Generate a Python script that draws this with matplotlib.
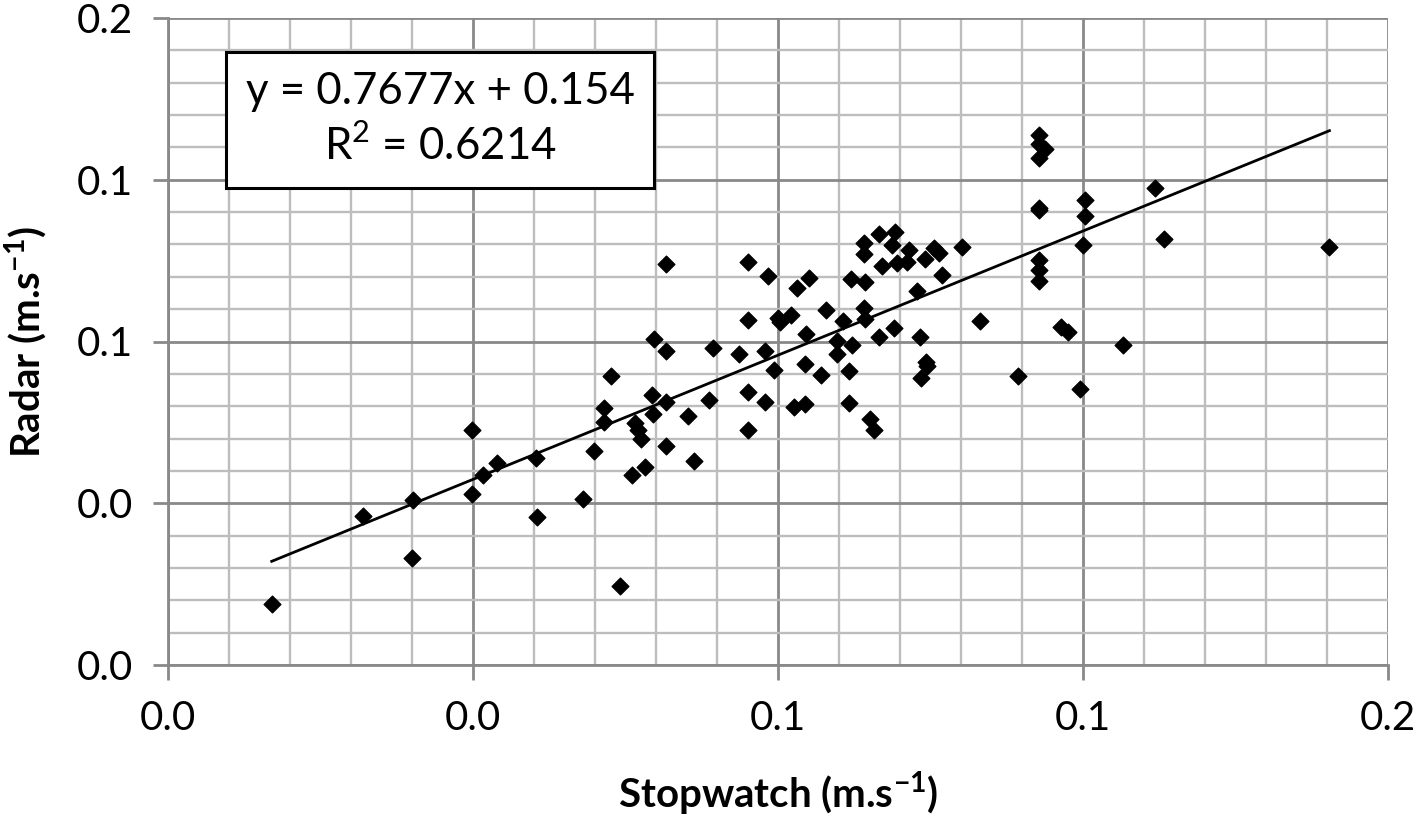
import numpy as np
import matplotlib
matplotlib.use('Agg')
import matplotlib.pyplot as plt
from matplotlib.ticker import MultipleLocator, FixedLocator, FixedFormatter

plt.rcParams['font.family'] = ['Lato', 'DejaVu Sans']
plt.rcParams['mathtext.fontset'] = 'custom'
plt.rcParams['mathtext.rm'] = 'Lato'
plt.rcParams['mathtext.bf'] = 'Lato:bold'

# stopwatch vs radar speeds
stopwatch = [0.0170, 0.0319, 0.0400, 0.0402, 0.0499, 0.0499, 0.0516, 0.0539, 0.0603, 0.0605,
             0.0680, 0.0698, 0.0714, 0.0715, 0.0727, 0.0741, 0.0761, 0.0765, 0.0771, 0.0775,
             0.0782, 0.0793, 0.0795, 0.0796, 0.0816, 0.0816, 0.0816, 0.0816, 0.0852, 0.0862,
             0.0887, 0.0893, 0.0936, 0.0951, 0.0951, 0.0951, 0.0951, 0.0978, 0.0978, 0.0984,
             0.0993, 0.1000, 0.1004, 0.1022, 0.1026, 0.1031, 0.1045, 0.1046, 0.1044, 0.1051,
             0.1070, 0.1078, 0.1097, 0.1097, 0.1107, 0.1116, 0.1116, 0.1120, 0.1121, 0.1141,
             0.1141, 0.1141, 0.1143, 0.1143, 0.1150, 0.1158, 0.1166, 0.1166, 0.1171, 0.1187,
             0.1191, 0.1190, 0.1195, 0.1211, 0.1215, 0.1228, 0.1232, 0.1234, 0.1241, 0.1242,
             0.1245, 0.1256, 0.1264, 0.1269, 0.1302, 0.1331, 0.1393, 0.1428, 0.1428, 0.1438,
             0.1428, 0.1428, 0.1428, 0.1428, 0.1428, 0.1428, 0.1464, 0.1475, 0.1495, 0.1500,
             0.1504, 0.1504, 0.1565, 0.1618, 0.1632, 0.1904]
radar = [0.0190, 0.0460, 0.0331, 0.0509, 0.0725, 0.0528, 0.0586, 0.0625, 0.0640, 0.0456,
         0.0512, 0.0661, 0.0751, 0.0795, 0.0894, 0.0244, 0.0588, 0.0748, 0.0725, 0.0699,
         0.0612, 0.0835, 0.0775, 0.1009, 0.1240, 0.0970, 0.0813, 0.0677, 0.0769, 0.0631,
         0.0818, 0.0980, 0.0960, 0.1245, 0.1068, 0.0844, 0.0727, 0.0971, 0.0812, 0.1201,
         0.0913, 0.1073, 0.1059, 0.1083, 0.0798, 0.1165, 0.0806, 0.1022, 0.0931, 0.1195,
         0.0895, 0.1096, 0.1003, 0.0962, 0.1063, 0.0910, 0.0811, 0.1192, 0.0988, 0.1305,
         0.1269, 0.1104, 0.1183, 0.1070, 0.0759, 0.0725, 0.1332, 0.1015, 0.1232, 0.1298,
         0.1337, 0.1042, 0.1242, 0.1245, 0.1283, 0.1155, 0.1013, 0.0888, 0.1254, 0.0938,
         0.0924, 0.1290, 0.1275, 0.1207, 0.1293, 0.1063, 0.0894, 0.1639, 0.1610, 0.1595,
         0.1566, 0.1413, 0.1406, 0.1252, 0.1221, 0.1188, 0.1046, 0.1030, 0.0854, 0.1299,
         0.1438, 0.1387, 0.0988, 0.1474, 0.1317, 0.1293]

# trendline as drawn (slope from the equation, intercept)
trend_slope = 0.7677
trend_intercept = 0.0190

ticks = [0.0, 0.05, 0.1, 0.15, 0.2]
tick_labels = ['0.0', '0.0', '0.1', '0.1', '0.2']
eq_text = 'y = 0.7677x + 0.154\nR$^2$ = 0.6214'

major_c = '#898989'
minor_c = '#bdbdbd'

fig = plt.figure(figsize=(14.18, 8.19), dpi=100)
ax = fig.add_axes([168/1418, 1-665/819, 1220/1418, 647/819])

ax.set_xlim(0, 0.2)
ax.set_ylim(0, 0.2)
for a in (ax.xaxis, ax.yaxis):
    a.set_major_locator(FixedLocator(ticks))
    a.set_major_formatter(FixedFormatter(tick_labels))
    a.set_minor_locator(MultipleLocator(0.01))
ax.grid(which='minor', color=minor_c, lw=1.7, zorder=0)
ax.grid(which='major', color=major_c, lw=2.0, zorder=0)
ax.set_axisbelow(True)
ax.tick_params(which='major', direction='out', length=11, width=2, color=major_c,
               labelsize=29, pad=14)
ax.tick_params(which='minor', length=0)
for s in ('top', 'right'):
    ax.spines[s].set_visible(False)
for s in ('left', 'bottom'):
    ax.spines[s].set_color(major_c)
    ax.spines[s].set_linewidth(2.0)

ax.scatter(stopwatch, radar, marker='D', s=72, color='black', zorder=3, clip_on=False)

xs = np.array([min(stopwatch), max(stopwatch)])
ax.plot(xs, trend_slope*xs + trend_intercept, color='black', lw=2.0, zorder=4)

ax.text(0.0446, 0.1685, eq_text, fontsize=31.5, ha='center', va='center', linespacing=1.36,
        bbox=dict(boxstyle='square,pad=0.45', fc='white', ec='black', lw=2.2), zorder=5)

ax.set_xlabel(r'Stopwatch (m.s$^{\mathbf{-1}}$)', fontsize=29, fontweight='bold', labelpad=24)
ax.set_ylabel(r'Radar (m.s$^{\mathbf{-1}}$)', fontsize=29, fontweight='bold', labelpad=20)

plt.savefig('out.png', dpi=100)
